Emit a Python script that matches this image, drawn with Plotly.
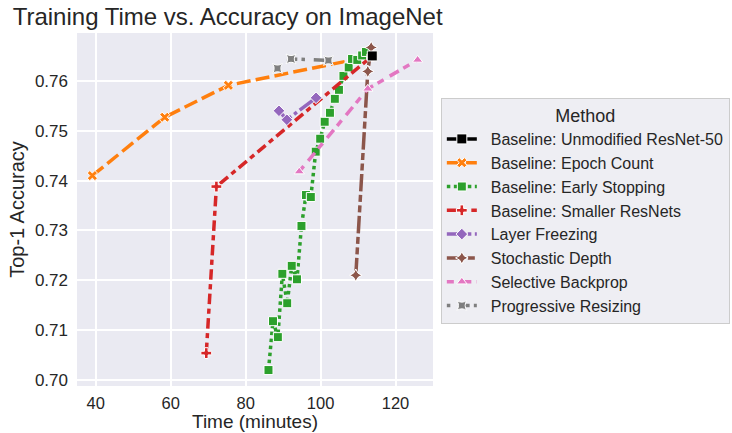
import plotly.graph_objects as go

# ---- data (time in minutes, top-1 accuracy) ----
baseline_t = [113.8]
baseline_acc = [0.7650]

epoch_t = [39.1, 58.4, 75.4, 113.8]
epoch_acc = [0.7410, 0.7527, 0.7591, 0.7650]

early_t = [86.1, 87.3, 88.6, 89.8, 91.1, 92.3, 93.7, 94.9, 96.1, 97.4, 98.7,
           99.9, 101.1, 102.5, 103.8, 104.9, 106.1, 107.5, 108.4, 109.8, 111.1, 112.1]
early_acc = [0.7020, 0.7118, 0.7086, 0.7213, 0.7154, 0.7229, 0.7202, 0.7309, 0.7371,
             0.7367, 0.7458, 0.7484, 0.7518, 0.7536, 0.7564, 0.7582, 0.7610, 0.7627,
             0.7644, 0.7642, 0.7651, 0.7658]

smaller_t = [69.5, 72.2, 113.8]
smaller_acc = [0.7054, 0.7388, 0.7650]

freeze_t = [88.9, 91.0, 98.8]
freeze_acc = [0.7540, 0.7522, 0.7566]

stoch_t = [109.4, 112.6, 113.5]
stoch_acc = [0.7210, 0.7619, 0.7667]

selbp_t = [94.3, 112.6, 125.9]
selbp_acc = [0.7418, 0.7584, 0.7642]

prog_t = [88.5, 92.1, 102.1]
prog_acc = [0.7625, 0.7644, 0.7641]

LW = 3.5


def dash(*seq):
    return ",".join(f"{v * LW:.1f}px" for v in seq)


series = [
    # name, x, y, color, dash, marker, legendrank
    ("Baseline: Epoch Count", epoch_t, epoch_acc, "#ff7f0e", dash(4, 1.5), "x", 2),
    ("Baseline: Early Stopping", early_t, early_acc, "#2ca02c", dash(1, 1), "square", 3),
    ("Baseline: Smaller ResNets", smaller_t, smaller_acc, "#d62728", dash(3, 1.25, 1.5, 1.25), "cross", 4),
    ("Layer Freezing", freeze_t, freeze_acc, "#9467bd", dash(5, 1, 1, 1), "diamond", 5),
    ("Stochastic Depth", stoch_t, stoch_acc, "#8c564b", dash(5, 1, 2, 1, 2, 1), "star-diamond", 6),
    ("Selective Backprop", selbp_t, selbp_acc, "#e377c2", dash(2, 2, 3, 1.5), "triangle-up", 7),
    ("Progressive Resizing", prog_t, prog_acc, "#7f7f7f", dash(1, 2.5, 3, 1.2), "star-square", 8),
]

PAD = "\u00a0\u00a0"

fig = go.Figure()
for name, xs, ys, col, dsh, sym, rank in series:
    fig.add_trace(go.Scatter(
        x=xs, y=ys, name=PAD + name, mode="lines+markers", legendrank=rank,
        line=dict(color=col, width=LW, dash=dsh),
        marker=dict(symbol=sym, size=9, color=col, line=dict(color="white", width=1)),
    ))

fig.add_trace(go.Scatter(
    x=baseline_t, y=baseline_acc, name=PAD + "Baseline: Unmodified ResNet-50",
    mode="lines+markers", legendrank=1,
    line=dict(color="black", width=LW),
    marker=dict(symbol="square", size=10, color="black", line=dict(color="white", width=1)),
))

font_family = "Liberation Sans, Arial, sans-serif"
txt = "#262626"

fig.update_layout(
    width=732, height=433,
    margin=dict(l=77, r=299, t=33, b=47, autoexpand=False),
    paper_bgcolor="white", plot_bgcolor="#EAEAF2",
    font=dict(family=font_family, color=txt, size=16),
    title=dict(text="Training Time vs. Accuracy on ImageNet", font=dict(size=24, color=txt),
               xref="container", x=0.311, xanchor="center",
               yref="container", y=1 - 17 / 433, yanchor="middle"),
    showlegend=True,
    legend=dict(
        x=1.022, xanchor="left", y=0.817, yanchor="top",
        bgcolor="#EEEEF3", bordercolor="#CCCCCC", borderwidth=1,
        font=dict(size=16, color=txt),
        title=dict(text="Method", side="top center", font=dict(size=18, color=txt)),
        itemwidth=30,
    ),
)

fig.update_xaxes(
    range=[35, 130], tickvals=[40, 60, 80, 100, 120],
    showgrid=True, gridcolor="white", gridwidth=1.5, zeroline=False, showline=False,
    ticklabelstandoff=5, tickfont=dict(size=16.5, color=txt),
    title=dict(text="Time (minutes)", font=dict(size=19, color=txt), standoff=0),
)
fig.update_yaxes(
    range=[0.6988, 0.7696], tickvals=[0.70, 0.71, 0.72, 0.73, 0.74, 0.75, 0.76],
    tickformat=".2f",
    showgrid=True, gridcolor="white", gridwidth=1.5, zeroline=False, showline=False,
    ticklabelstandoff=8, tickfont=dict(size=17, color=txt),
    title=dict(text="Top-1 Accuracy", font=dict(size=20, color=txt), standoff=4),
)

fig.write_html("out.html")
